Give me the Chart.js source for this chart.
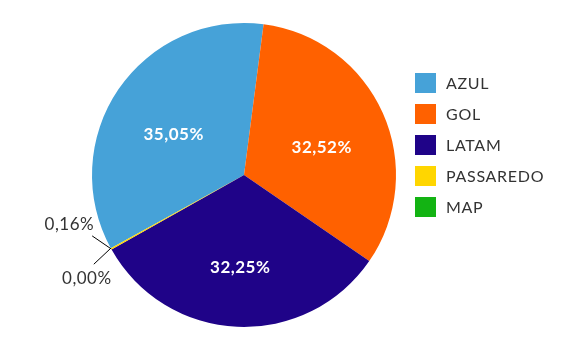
<!DOCTYPE html>
<html>
<head>
<meta charset="utf-8">
<script src="https://cdn.jsdelivr.net/npm/chart.js@4"></script>
<style>
  html, body { margin: 0; padding: 0; background: #fff; }
  #wrap { width: 578px; height: 351px; }
</style>
</head>
<body>
<div id="wrap"><canvas id="myChart" width="578" height="351"></canvas></div>
<script>
// dados
var companhias = ["AZUL", "GOL", "LATAM", "PASSAREDO", "MAP"];
var participacao = [35.05, 32.52, 32.25, 0.16, 0.00];
var cores = ["#46a2d8", "#ff6100", "#1f0388", "#ffd600", "#13b313"];

function fmt(v){
    return v.toFixed(2).replace(".", ",") + "%";
}

// percentuais dentro/fora das fatias
var rotulos = {
    id: "rotulos",
    afterDatasetsDraw: function(chart){
        var ctx = chart.ctx;
        var meta = chart.getDatasetMeta(0);
        var pequenos = 0;
        ctx.save();
        ctx.letterSpacing = "0.5px";
        meta.data.forEach(function(arc, i){
            var v = chart.data.datasets[0].data[i];
            var mid = (arc.startAngle + arc.endAngle) / 2;
            if (v >= 1) {
                var d = arc.outerRadius * 0.56;
                ctx.font = "bold 17px Lato";
                ctx.fillStyle = "#ffffff";
                ctx.textAlign = "center";
                ctx.textBaseline = "middle";
                ctx.fillText(fmt(v), arc.x + Math.cos(mid) * d, arc.y + Math.sin(mid) * d + 7);
            } else {
                var ex = arc.x + Math.cos(mid) * arc.outerRadius;
                var ey = arc.y + Math.sin(mid) * arc.outerRadius;
                var up = pequenos % 2 == 0;
                var lx = ex - (up ? 19 : 17);
                var ly = ey + (up ? -13 : 16);
                ctx.strokeStyle = "#000";
                ctx.lineWidth = 1;
                ctx.beginPath();
                ctx.moveTo(ex, ey);
                ctx.lineTo(lx, ly);
                ctx.stroke();
                ctx.font = "17px Lato";
                ctx.fillStyle = "#333333";
                ctx.textBaseline = "alphabetic";
                if (up) {
                    ctx.textAlign = "right";
                    ctx.fillText(fmt(v), lx + 2, ly - 6);
                } else {
                    ctx.textAlign = "center";
                    ctx.fillText(fmt(v), lx - 7, ly + 20);
                }
                pequenos++;
            }
        });
        ctx.restore();
    }
};

// legenda a direita
var legenda = {
    id: "legenda",
    afterDraw: function(chart){
        var ctx = chart.ctx;
        var ds = chart.data.datasets[0];
        ctx.save();
        ctx.letterSpacing = "0.7px";
        chart.data.labels.forEach(function(lbl, i){
            var top = 73 + i * 31;
            ctx.fillStyle = ds.backgroundColor[i];
            ctx.fillRect(415, top, 21, 20);
            ctx.font = "16px Lato";
            ctx.fillStyle = "#333333";
            ctx.textAlign = "left";
            ctx.textBaseline = "middle";
            ctx.fillText(lbl, 446, top + 11);
        });
        ctx.restore();
    }
};

var myChart = document.getElementById("myChart").getContext("2d");
var chart = new Chart(myChart, {
    type: "pie",
    data: {
        labels: companhias,
        datasets: [{
            data: participacao,
            backgroundColor: cores,
            borderWidth: 0,
            hoverOffset: 0
        }]
    },
    options: {
        responsive: false,
        animation: false,
        rotation: -118.8,
        layout: {
            padding: { left: 92, right: 182, top: 23, bottom: 24 }
        },
        plugins: {
            legend: { display: false },
            tooltip: { enabled: false }
        }
    },
    plugins: [rotulos, legenda]
});
</script>
</body>
</html>
